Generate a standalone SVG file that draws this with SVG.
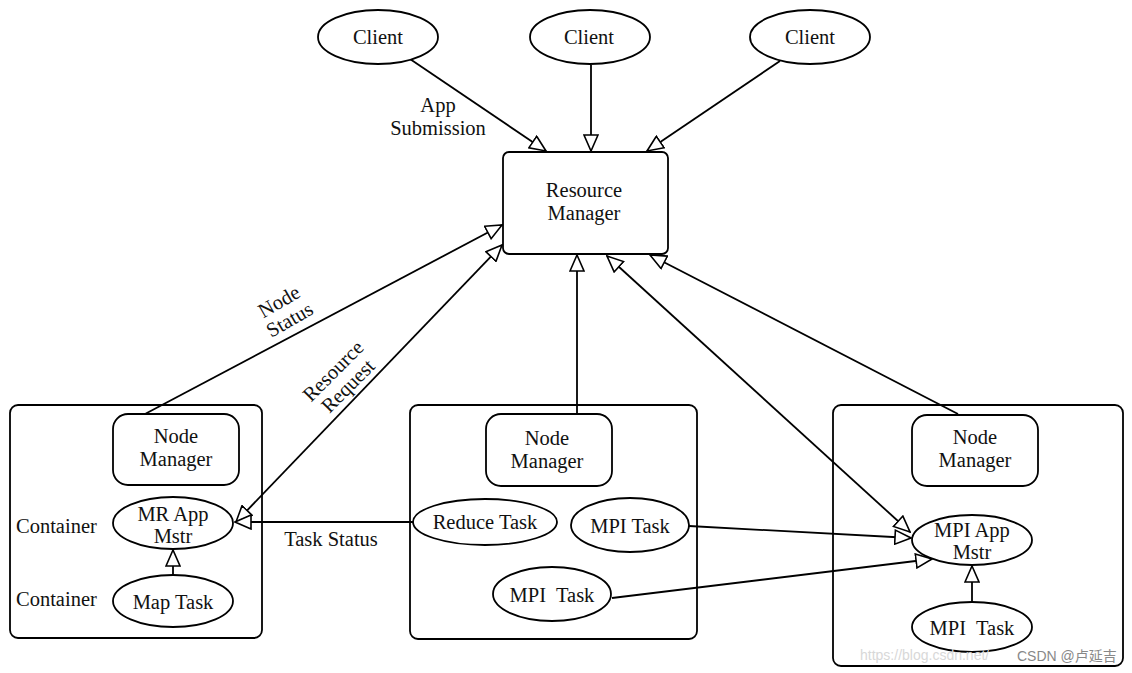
<svg xmlns="http://www.w3.org/2000/svg" width="1132" height="673" viewBox="0 0 1132 673">
<style>
  .shape { fill: #fff; stroke: #000; stroke-width: 1.8; }
  .box { fill: none; stroke: #000; stroke-width: 1.8; }
  .t { font-family: "Liberation Serif", "Times New Roman", serif; font-size: 20.5px; fill: #111; text-anchor: middle; dominant-baseline: central; }
  .tl { text-anchor: start; }
  .edge { stroke: #000; stroke-width: 1.8; fill: none; marker-end: url(#arr); }
  .both { marker-start: url(#arrs); }
  .wm { font-family: "Liberation Sans", Arial, "Noto Sans CJK SC", sans-serif; font-size: 14px; dominant-baseline: central; }
</style>
<defs>
  <marker id="arr" markerUnits="userSpaceOnUse" markerWidth="18" markerHeight="16" refX="16" refY="7" orient="auto" viewBox="-1 -1 18 16">
    <path d="M0,0 L16,7 L0,14 z" fill="#fff" stroke="#000" stroke-width="1.6"/>
  </marker>
  <marker id="arrs" markerUnits="userSpaceOnUse" markerWidth="18" markerHeight="16" refX="16" refY="7" orient="auto-start-reverse" viewBox="-1 -1 18 16">
    <path d="M0,0 L16,7 L0,14 z" fill="#fff" stroke="#000" stroke-width="1.6"/>
  </marker>
</defs>
<rect width="1132" height="673" fill="#fff"/>

<!-- containers (hosts) -->
<g id="host1"><rect class="box" x="10" y="405" width="252" height="233" rx="8"/></g>
<g id="host2"><rect class="box" x="410" y="405" width="287" height="234" rx="8"/></g>
<g id="host3"><rect class="box" x="833" y="405" width="290" height="261" rx="8"/></g>

<!-- connectors -->
<g id="connectors">
  <line class="edge" x1="410" y1="59" x2="546" y2="151"/>
  <line class="edge" x1="591" y1="65" x2="591" y2="151"/>
  <line class="edge" x1="780" y1="61" x2="647" y2="151"/>
  <line class="edge" x1="145" y1="414" x2="502" y2="225"/>
  <line class="edge both" x1="236" y1="522" x2="502" y2="245"/>
  <line class="edge" x1="577" y1="414" x2="577" y2="255"/>
  <line class="edge both" x1="910" y1="532" x2="607" y2="256"/>
  <line class="edge" x1="958" y1="414" x2="650" y2="255"/>
  <line class="edge" x1="413" y1="522" x2="235" y2="522"/>
  <line class="edge" x1="173" y1="575" x2="173" y2="550"/>
  <line class="edge" x1="689" y1="526" x2="911" y2="538"/>
  <line class="edge" x1="612" y1="598" x2="932" y2="559"/>
  <line class="edge" x1="972" y1="602" x2="972" y2="566"/>
</g>

<!-- nodes -->
<g id="client1"><ellipse class="shape" cx="378" cy="37" rx="60" ry="27"/><text class="t" x="378" y="37">Client</text></g>
<g id="client2"><ellipse class="shape" cx="590" cy="37" rx="60" ry="27"/><text class="t" x="589" y="37">Client</text></g>
<g id="client3"><ellipse class="shape" cx="810" cy="37" rx="60" ry="27"/><text class="t" x="810" y="37">Client</text></g>

<g id="rm"><rect class="shape" x="503" y="152" width="165" height="102" rx="6"/>
  <text class="t" x="584" y="190">Resource</text><text class="t" x="584" y="213">Manager</text></g>

<g id="nm1"><rect class="shape" x="113" y="414" width="126" height="71" rx="15"/>
  <text class="t" x="176" y="436">Node</text><text class="t" x="176" y="459">Manager</text></g>
<g id="mrapp"><ellipse class="shape" cx="173" cy="523" rx="60" ry="26"/>
  <text class="t" x="173" y="514">MR App</text><text class="t" x="173" y="536">Mstr</text></g>
<g id="maptask"><ellipse class="shape" cx="173" cy="601" rx="60" ry="26"/>
  <text class="t" x="173" y="602">Map Task</text></g>
<g id="container1"><text class="t tl" x="16" y="526">Container</text></g>
<g id="container2"><text class="t tl" x="16" y="599">Container</text></g>

<g id="nm2"><rect class="shape" x="486" y="414" width="126" height="72" rx="15"/>
  <text class="t" x="547" y="438">Node</text><text class="t" x="547" y="461">Manager</text></g>
<g id="reducetask"><ellipse class="shape" cx="485" cy="522" rx="72" ry="23"/>
  <text class="t" x="485" y="522">Reduce Task</text></g>
<g id="mpitask1"><ellipse class="shape" cx="630" cy="525" rx="59" ry="27"/>
  <text class="t" x="630" y="526">MPI Task</text></g>
<g id="mpitask2"><ellipse class="shape" cx="552" cy="594" rx="59" ry="27"/>
  <text class="t" x="552" y="595" xml:space="preserve">MPI  Task</text></g>

<g id="nm3"><rect class="shape" x="912" y="415" width="126" height="71" rx="15"/>
  <text class="t" x="975" y="437">Node</text><text class="t" x="975" y="460">Manager</text></g>
<g id="mpiapp"><ellipse class="shape" cx="972" cy="540" rx="60" ry="25"/>
  <text class="t" x="972" y="530">MPI App</text><text class="t" x="972" y="552">Mstr</text></g>
<g id="mpitask3"><ellipse class="shape" cx="972" cy="627" rx="60" ry="25"/>
  <text class="t" x="972" y="628" xml:space="preserve">MPI  Task</text></g>

<!-- edge labels -->
<g id="label-app"><text class="t" x="438" y="105">App</text><text class="t" x="438" y="128">Submission</text></g>
<g id="label-node-status" transform="translate(284,310) rotate(-30)">
  <text class="t" x="0" y="-10">Node</text><text class="t" x="0" y="11">Status</text></g>
<g id="label-resource-request" transform="translate(340,378) rotate(-45)">
  <text class="t" x="0" y="-10">Resource</text><text class="t" x="0" y="11">Request</text></g>
<g id="label-task-status"><text class="t" x="331" y="539">Task Status</text></g>

<!-- watermark -->
<g id="watermark">
  <text class="wm" x="860" y="655" fill="#d8d8d8">https://blog.csdn.net/</text>
  <text class="wm" x="1017" y="656" fill="#888">CSDN @卢延吉</text>
</g>
</svg>
